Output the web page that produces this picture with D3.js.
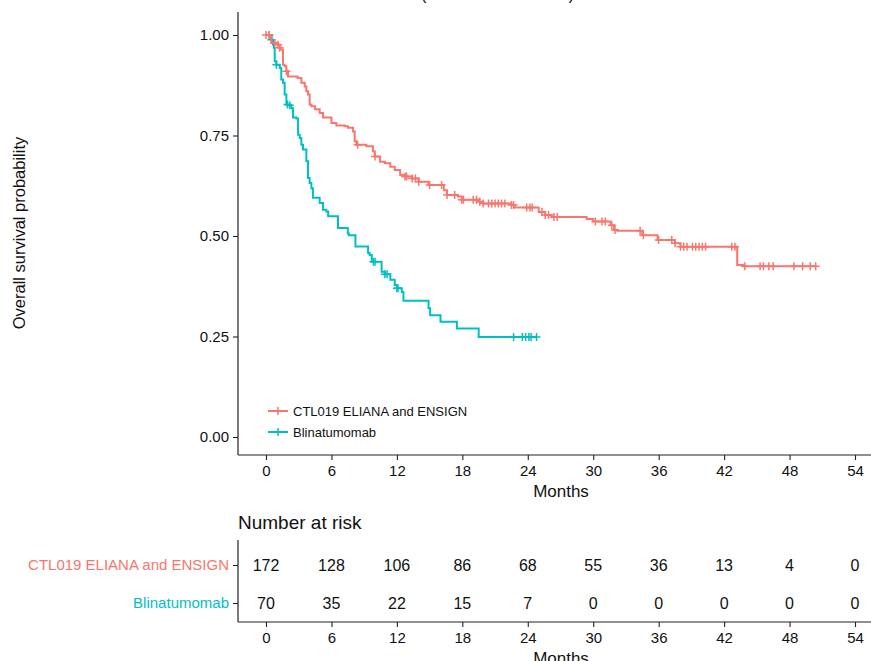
<!DOCTYPE html>
<html>
<head>
<meta charset="utf-8">
<script src="https://cdn.jsdelivr.net/npm/d3@7"></script>
<style>
  body { margin: 0; background: #fff; }
  text { font-family: "Liberation Sans", Arial, sans-serif; }
</style>
</head>
<body>
<script>
// groups
const groups = ["CTL019 ELIANA and ENSIGN", "Blinatumomab"];
const colors = ["#F8766D", "#00BFC4"];

// CTL019: event times (months) and survival after each event
const ctlTimes = [0.49, 1.1, 1.25, 1.4, 1.56, 1.71, 1.87, 2.02, 2.9, 3.24, 3.55, 3.7, 3.85, 4.0, 4.16, 4.5, 4.92, 5.23, 6.0, 6.45, 7.22, 7.52, 7.98, 8.13, 8.28, 9.2, 9.8, 9.97, 10.46, 10.9, 11.4, 11.8, 12.3, 12.75, 13.4, 14.0, 14.9, 16.3, 16.6, 17.6, 17.95, 19.5, 19.9, 22.5, 22.8, 25.0, 25.6, 26.2, 29.4, 30.0, 31.6, 31.9, 32.2, 34.5, 35.9, 37.5, 38.0, 43.2, 43.8];
const ctlSurv = [0.980, 0.976, 0.968, 0.963, 0.926, 0.922, 0.910, 0.897, 0.893, 0.881, 0.872, 0.860, 0.852, 0.827, 0.823, 0.815, 0.806, 0.795, 0.781, 0.775, 0.773, 0.769, 0.760, 0.736, 0.727, 0.723, 0.711, 0.698, 0.685, 0.681, 0.672, 0.664, 0.652, 0.648, 0.643, 0.635, 0.627, 0.614, 0.602, 0.598, 0.590, 0.585, 0.581, 0.577, 0.571, 0.560, 0.552, 0.547, 0.542, 0.536, 0.527, 0.515, 0.513, 0.502, 0.490, 0.482, 0.473, 0.428, 0.425];
const ctlCensor = [0, 0.3, 0.8, 1.1, 1.25, 1.87, 8.4, 10.0, 12.75, 12.9, 13.4, 13.7, 14.0, 15.0, 16.1, 16.6, 17.3, 17.95, 18.1, 19.0, 19.3, 19.6, 19.9, 20.4, 20.7, 21.0, 21.3, 21.6, 21.9, 22.5, 22.7, 23.9, 24.2, 24.4, 25.3, 25.6, 25.9, 26.4, 26.7, 30.2, 30.8, 31.1, 31.7, 32.0, 34.3, 34.6, 36.0, 37.2, 37.5, 38.0, 38.3, 38.6, 39.1, 39.4, 39.7, 40.0, 40.3, 42.7, 43.0, 43.9, 45.3, 45.6, 46.1, 46.5, 48.4, 49.2, 49.9, 50.4];
const ctlEnd = 50.4;

// Blinatumomab
const blinTimes = [0.5, 0.64, 0.73, 0.8, 0.95, 1.26, 1.4, 1.56, 1.71, 1.87, 2.17, 2.32, 2.48, 2.78, 2.94, 3.09, 3.24, 3.39, 3.7, 3.85, 4.0, 4.16, 4.3, 4.92, 5.23, 5.53, 5.7, 6.6, 7.5, 7.6, 8.2, 9.36, 9.5, 9.7, 10.6, 10.9, 11.4, 11.8, 12.0, 12.45, 12.6, 14.9, 15.05, 16.0, 17.5, 19.5];
const blinSurv = [0.988, 0.976, 0.968, 0.935, 0.926, 0.918, 0.889, 0.881, 0.852, 0.827, 0.825, 0.818, 0.795, 0.792, 0.752, 0.744, 0.727, 0.715, 0.686, 0.644, 0.632, 0.619, 0.595, 0.582, 0.565, 0.561, 0.549, 0.520, 0.506, 0.502, 0.474, 0.458, 0.453, 0.436, 0.411, 0.405, 0.391, 0.378, 0.370, 0.361, 0.339, 0.320, 0.303, 0.287, 0.270, 0.249];
const blinCensor = [0.3, 0.5, 0.95, 1.97, 2.17, 9.85, 10.0, 10.9, 11.1, 12.0, 12.1, 22.7, 23.5, 23.8, 24.1, 24.3, 24.8];
const blinEnd = 24.8;

// number at risk
const riskTicks = [0, 6, 12, 18, 24, 30, 36, 42, 48, 54];
const ctlRisk = [172, 128, 106, 86, 68, 55, 36, 13, 4, 0];
const blinRisk = [70, 35, 22, 15, 7, 0, 0, 0, 0, 0];

const yTicks = [0, 0.25, 0.5, 0.75, 1];

const width = 871;
const height = 661;
const axisLeft = 238;
const plotTop = 12;
const plotBottom = 455;

window.addEventListener('load', () => {
    draw();
}, false);

function survAt(times, surv, t) {
    let s = 1;
    for (let i = 0; i < times.length; i++) {
        if (times[i] <= t) s = surv[i];
    }
    return s;
}

function draw() {
    const svg = d3.select("body").append("svg")
        .attr("width", width)
        .attr("height", height);

    const xScale = d3.scaleLinear().domain([0, 54]).range([266, 855]);
    const yScale = d3.scaleLinear().domain([0, 1]).range([437, 35]);

    // title (cut off at top)
    svg.append("text")
        .attr("x", 574).attr("y", 0)
        .attr("text-anchor", "end")
        .style("font-size", "16px")
        .text("Overall Survival (Unmatched Cohorts)");

    // y axis
    const yAxis = svg.append("g")
        .attr("transform", "translate(" + axisLeft + ",0)")
        .call(d3.axisLeft(yScale).tickValues(yTicks).tickFormat(d3.format(".2f")).tickSize(5).tickPadding(4));
    yAxis.select(".domain").attr("d", "M0," + plotTop + "V" + plotBottom);

    // x axis
    const xAxis = svg.append("g")
        .attr("transform", "translate(0," + plotBottom + ")")
        .call(d3.axisBottom(xScale).tickValues(riskTicks).tickSize(5).tickPadding(5));
    xAxis.select(".domain").attr("d", "M" + axisLeft + ",0H" + width);

    [yAxis, xAxis].forEach(ax => {
        ax.select(".domain").attr("stroke", "#222").attr("stroke-width", 1.2);
        ax.selectAll(".tick line").attr("stroke", "#222").attr("stroke-width", 1.1);
        ax.selectAll(".tick text").attr("fill", "#111")
            .style("font-size", "15px").style("font-family", "'Liberation Sans', Arial, sans-serif");
    });

    svg.append("text")
        .attr("x", 561).attr("y", 497)
        .attr("text-anchor", "middle")
        .style("font-size", "17px").attr("fill", "#111")
        .text("Months");

    svg.append("text")
        .attr("transform", "translate(25,233) rotate(-90)")
        .attr("text-anchor", "middle")
        .style("font-size", "16.5px").attr("fill", "#111")
        .text("Overall survival probability");

    // curves
    const series = [
        { times: ctlTimes, surv: ctlSurv, censor: ctlCensor, end: ctlEnd },
        { times: blinTimes, surv: blinSurv, censor: blinCensor, end: blinEnd }
    ];

    const line = d3.line()
        .x(d => xScale(d[0]))
        .y(d => yScale(d[1]))
        .curve(d3.curveStepAfter);

    const cross = "M-4,0H4M0,-4V4";

    // draw blinatumomab first, then CTL019 on top
    [1, 0].forEach(i => {
        const s = series[i];
        const pts = [[0, 1]];
        s.times.forEach((t, k) => pts.push([t, s.surv[k]]));
        pts.push([s.end, s.surv[s.surv.length - 1]]);

        svg.append("path")
            .datum(pts)
            .attr("fill", "none")
            .attr("stroke", colors[i])
            .attr("stroke-width", 2)
            .attr("d", line);

        svg.append("g").selectAll("path")
            .data(s.censor)
            .join("path")
            .attr("transform", t => "translate(" + xScale(t) + "," + yScale(survAt(s.times, s.surv, t)) + ")")
            .attr("d", cross)
            .attr("stroke", colors[i])
            .attr("stroke-width", 1.5)
            .attr("fill", "none");
    });

    // legend
    const legend = svg.append("g");
    groups.forEach((g, i) => {
        const ly = 411 + i * 21;
        legend.append("line")
            .attr("x1", 268).attr("x2", 288)
            .attr("y1", ly).attr("y2", ly)
            .attr("stroke", colors[i]).attr("stroke-width", 2);
        legend.append("path")
            .attr("transform", "translate(278," + ly + ")")
            .attr("d", cross)
            .attr("stroke", colors[i]).attr("stroke-width", 1.5);
        legend.append("text")
            .attr("x", 293).attr("y", ly + 4.5)
            .style("font-size", "13px").attr("fill", "#111")
            .text(g);
    });

    // risk table
    const tableTop = 540;
    const tableBottom = 622;
    const rowScale = d3.scalePoint().domain(groups).range([565, 603]);

    svg.append("text")
        .attr("x", axisLeft).attr("y", 529)
        .style("font-size", "19px").attr("fill", "#111")
        .text("Number at risk");

    const tY = svg.append("g")
        .attr("transform", "translate(" + axisLeft + ",0)")
        .call(d3.axisLeft(rowScale).tickSize(5).tickPadding(4));
    tY.select(".domain").attr("d", "M0," + tableTop + "V" + tableBottom);
    tY.selectAll(".tick text")
        .attr("fill", (d, i) => colors[i])
        .style("font-size", "15px").style("font-family", "'Liberation Sans', Arial, sans-serif");

    const tX = svg.append("g")
        .attr("transform", "translate(0," + tableBottom + ")")
        .call(d3.axisBottom(xScale).tickValues(riskTicks).tickSize(5).tickPadding(5));
    tX.select(".domain").attr("d", "M" + axisLeft + ",0H" + width);
    tX.selectAll(".tick text").attr("fill", "#111")
        .style("font-size", "15px").style("font-family", "'Liberation Sans', Arial, sans-serif");

    [tY, tX].forEach(ax => {
        ax.select(".domain").attr("stroke", "#222").attr("stroke-width", 1.2);
        ax.selectAll(".tick line").attr("stroke", "#222").attr("stroke-width", 1.1);
    });

    [ctlRisk, blinRisk].forEach((row, i) => {
        svg.append("g").selectAll("text")
            .data(row)
            .join("text")
            .attr("x", (d, k) => xScale(riskTicks[k]))
            .attr("y", rowScale(groups[i]) + 6)
            .attr("text-anchor", "middle")
            .style("font-size", "16px").attr("fill", "#111")
            .text(d => d);
    });

    svg.append("text")
        .attr("x", 561).attr("y", 664)
        .attr("text-anchor", "middle")
        .style("font-size", "17px").attr("fill", "#111")
        .text("Months");
}
</script>
</body>
</html>
